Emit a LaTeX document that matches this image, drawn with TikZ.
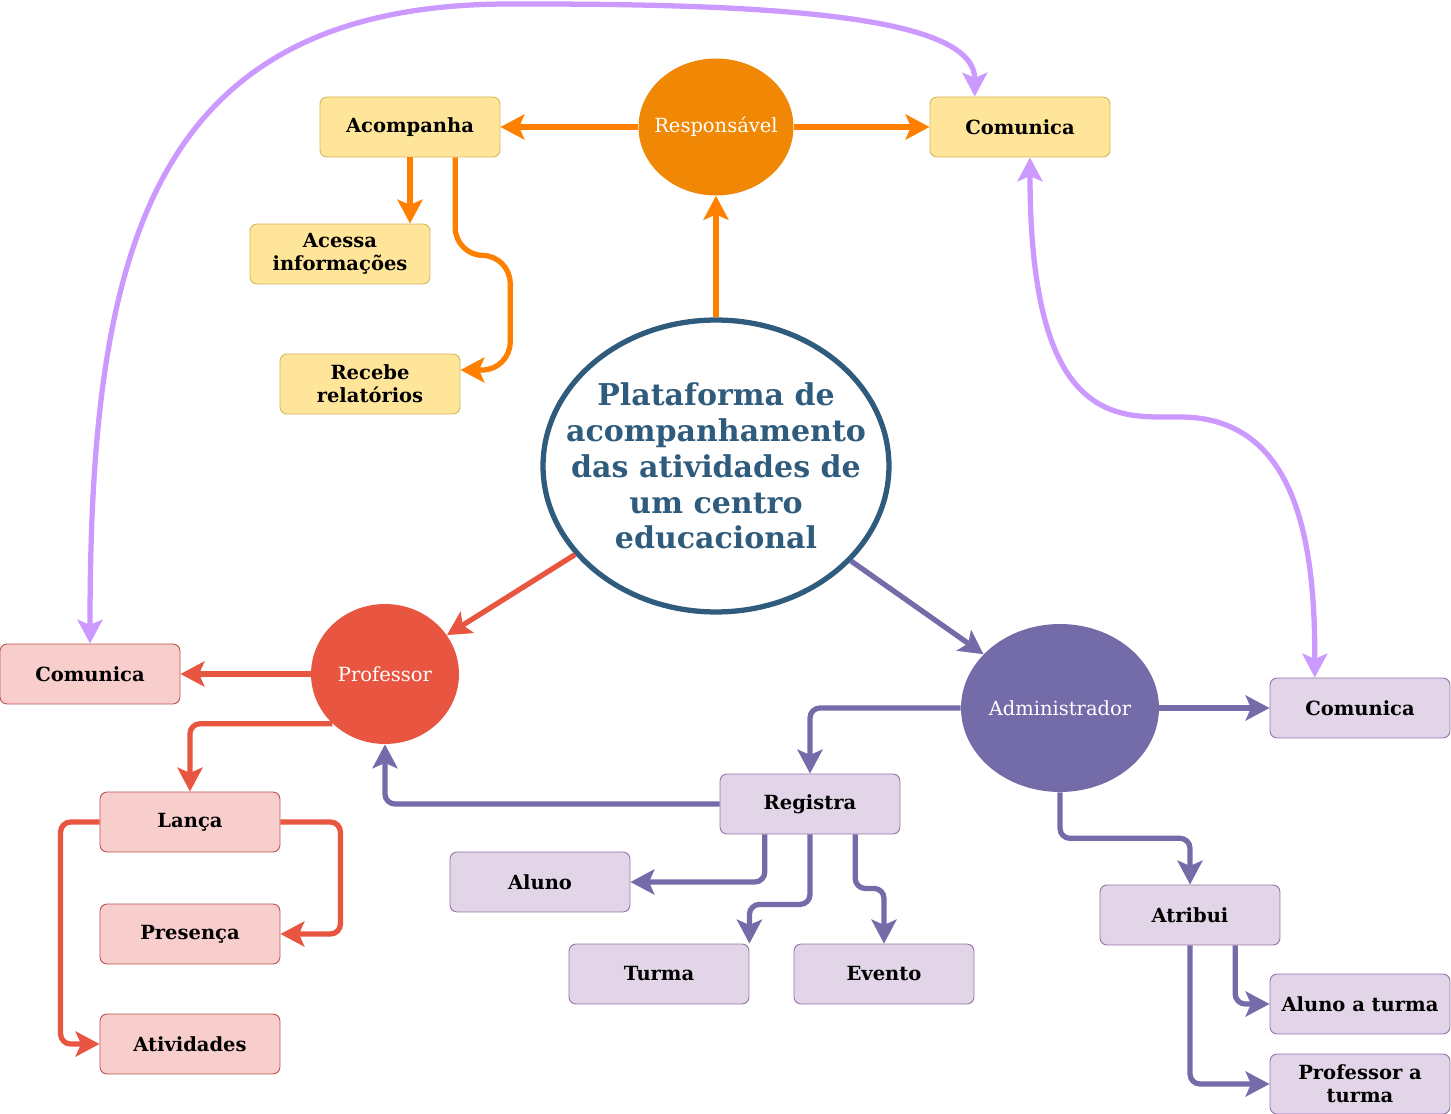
\documentclass[tikz,border=0pt]{standalone}
\usepackage{fontspec}
\setmainfont{DejaVu Serif}
\usetikzlibrary{calc,shapes.geometric,arrows.meta}

\definecolor{respFill}{HTML}{F08705}
\definecolor{respEdge}{HTML}{FF8000}
\definecolor{profFill}{HTML}{E85642}
\definecolor{admFill}{HTML}{736CA8}
\definecolor{centerBlue}{HTML}{2F5B7C}
\definecolor{lavender}{HTML}{CC99FF}
\definecolor{yellowFill}{HTML}{FFE599}
\definecolor{yellowLine}{HTML}{D6B656}
\definecolor{redFill}{HTML}{F8CECC}
\definecolor{redLine}{HTML}{B85450}
\definecolor{purpleFill}{HTML}{E1D5E7}
\definecolor{purpleLine}{HTML}{9673A6}

\begin{document}
\begin{tikzpicture}[x=0.02cm,y=-0.02cm]
          \useasboundingbox (0,0) rectangle (1451,1114);
          \tikzset{BoxStyle/.style = {rectangle,rounded corners=0.14cm,minimum width=3.6cm,minimum height=1.2cm,
              inner sep=0pt,align=center,line width=0.5pt,font=\fontsize{11.1}{13}\selectfont\bfseries}};
          \tikzset{RoleStyle/.style = {ellipse,inner sep=0pt,
              label={[text=white,font=\fontsize{11.1}{13}\selectfont]center:#1}}};
          \tikzset{EdgeStyle/.style = {line width=3pt,rounded corners=0.2cm,
              -{Stealth[length=13.6pt,width=14.2pt,inset=3pt]}}};

          \node[ellipse,draw=centerBlue,line width=3pt,minimum width=6.92cm,minimum height=5.84cm,inner sep=0pt,
              label={[align=center,text=centerBlue,font=\fontsize{17.1}{20.4}\selectfont\bfseries]center:Plataforma de\\acompanhamento\\das atividades de\\um centro\\educacional}]
              (center) at (716,466) {};

          % responsavel
          \node[RoleStyle=Responsável,fill=respFill,minimum width=3.1cm,minimum height=2.74cm] (resp) at (716,127) {};
          \node[BoxStyle,fill=yellowFill,draw=yellowLine] (acomp) at (410,127) {Acompanha};
          \node[BoxStyle,fill=yellowFill,draw=yellowLine] (com_t) at (1020,127) {Comunica};
          \node[BoxStyle,fill=yellowFill,draw=yellowLine] (acessa) at (340,254) {Acessa\\informações};
          \node[BoxStyle,fill=yellowFill,draw=yellowLine] (recebe) at (370,384) {Recebe\\relatórios};

          % professor
          \node[RoleStyle=Professor,fill=profFill,minimum width=2.96cm,minimum height=2.8cm] (prof) at (385,674) {};
          \node[BoxStyle,fill=redFill,draw=redLine] (com_l) at (90,674) {Comunica};
          \node[BoxStyle,fill=redFill,draw=redLine] (lanca) at (190,822) {Lança};
          \node[BoxStyle,fill=redFill,draw=redLine] (presenca) at (190,934) {Presença};
          \node[BoxStyle,fill=redFill,draw=redLine] (ativ) at (190,1044) {Atividades};

          % administrador
          \node[RoleStyle=Administrador,fill=admFill,minimum width=3.96cm,minimum height=3.36cm] (adm) at (1060,708) {};
          \node[BoxStyle,fill=purpleFill,draw=purpleLine] (com_r) at (1360,708) {Comunica};
          \node[BoxStyle,fill=purpleFill,draw=purpleLine] (registra) at (810,804) {Registra};
          \node[BoxStyle,fill=purpleFill,draw=purpleLine] (aluno) at (540,882) {Aluno};
          \node[BoxStyle,fill=purpleFill,draw=purpleLine] (turma) at (659,974) {Turma};
          \node[BoxStyle,fill=purpleFill,draw=purpleLine] (evento) at (884,974) {Evento};
          \node[BoxStyle,fill=purpleFill,draw=purpleLine] (atribui) at (1190,915) {Atribui};
          \node[BoxStyle,fill=purpleFill,draw=purpleLine] (aluno_t) at (1360,1004) {Aluno a turma};
          \node[BoxStyle,fill=purpleFill,draw=purpleLine] (prof_t) at (1360,1084) {Professor a\\turma};

          % responsavel edges
          \tikzset{EdgeStyle/.append style = {respEdge}};
          \draw[EdgeStyle] (center) -- (resp);
          \draw[EdgeStyle] (resp) -- (acomp);
          \draw[EdgeStyle] (resp) -- (com_t);
          \draw[EdgeStyle] (acomp.south) -- (acomp.south |- acessa.north);
          \draw[EdgeStyle,rounded corners=0.56cm] ($(acomp.south)!0.5!(acomp.south east)$) -- ++(0,98) -- ++(55,0)
              |- ($(recebe.east)+(0,-14)$);

          % professor edges
          \tikzset{EdgeStyle/.append style = {profFill}};
          \draw[EdgeStyle] (center) -- (prof);
          \draw[EdgeStyle] (prof) -- (com_l);
          \draw[EdgeStyle] (prof.south west) -| (lanca.north);
          \draw[EdgeStyle] (lanca.east) -- ++(60,0) |- (presenca.east);
          \draw[EdgeStyle] (lanca.west) -- ++(-39,0) |- (ativ.west);

          % administrador edges
          \tikzset{EdgeStyle/.append style = {admFill}};
          \draw[EdgeStyle] (center) -- (adm);
          \draw[EdgeStyle] (adm) -- (com_r);
          \draw[EdgeStyle] (adm.west) -| (registra.north);
          \draw[EdgeStyle] (adm.south) -- ++(0,46) -| (atribui.north);
          \draw[EdgeStyle] (registra.west) -| (prof.south);
          \draw[EdgeStyle] ($(registra.south)!0.5!(registra.south west)$) |- (aluno.east);
          \draw[EdgeStyle] (registra.south) -- ++(0,70) -| (turma.north east);
          \draw[EdgeStyle] ($(registra.south)!0.5!(registra.south east)$) -- ++(0,54) -| (evento.north);
          \draw[EdgeStyle] ($(atribui.south)!0.5!(atribui.south east)$) |- (aluno_t.west);
          \draw[EdgeStyle] (atribui.south) |- (prof_t.west);

          % comunica links
          \tikzset{EdgeStyle/.append style = {lavender,{Stealth[length=13.6pt,width=14.2pt,inset=3pt]}-{Stealth[length=13.6pt,width=14.2pt,inset=3pt]}}};
          \draw[EdgeStyle] (com_l.north) .. controls (90,250) and (150,4) .. (520,4)
              .. controls (800,4) and ($(com_t.north west)!0.25!(com_t.north east)+(0,-77)$)
              .. ($(com_t.north west)!0.25!(com_t.north east)$);
          \draw[EdgeStyle] ($(com_t.south)+(10,0)$) .. controls (1030,400) and (1100,417) .. (1170,417)
              .. controls (1300,417) and (1315,550) .. ($(com_r.north west)!0.25!(com_r.north east)$);
        \end{tikzpicture}
\end{document}
